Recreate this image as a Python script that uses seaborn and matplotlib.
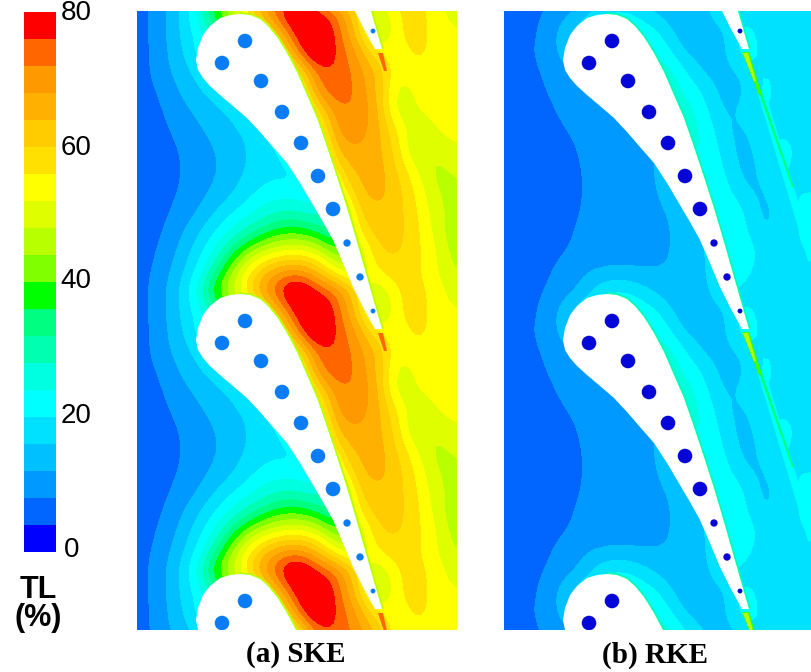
import numpy as np
import matplotlib
matplotlib.use("Agg")
import matplotlib.pyplot as plt
from matplotlib.colors import ListedColormap, BoundaryNorm
import seaborn as sns

# TL (%): one blade pitch, 14 rows by 17 columns
SKE_TL = [
    [6, 9.5, 15, 24, 42, 50, 66, 76, 86, 76, 72, 60, 46, 56, 58, 54, 49],
    [6, 9.4, 15, 21, 30, 40, 50, 64, 80, 86, 74, 62, 42, 56, 58, 54, 52],
    [6, 9, 14.5, 20, 30, 40, 48, 52, 72, 86, 75, 68, 55, 53, 58, 54, 54],
    [6, 9, 13.3, 17, 24, 30, 40, 46, 56, 74, 76, 70, 64, 52, 55, 54, 54],
    [6, 7.8, 11.5, 15, 18, 24, 30, 36, 46, 70, 76, 71, 64, 49, 53, 54, 54],
    [5, 7, 10, 12.7, 15, 17, 22, 30, 40, 58, 71, 72, 66, 48, 52, 54, 54],
    [5, 6.5, 8.6, 11, 13.5, 15.9, 17, 25, 35, 48, 70, 70, 66, 56, 47, 52, 54],
    [5, 6, 7.7, 9.8, 12, 15, 17, 18, 30, 40, 65, 68, 66, 58, 46, 49, 51],
    [5, 6, 7.5, 9.5, 11.7, 14.8, 17.5, 19, 18, 35, 58, 65, 67, 60, 52, 46, 49],
    [5, 6, 7.8, 10, 13, 16, 20, 22, 21, 19, 50, 63, 66, 62, 55, 47, 47],
    [5, 6.5, 8.6, 11.7, 16, 20, 24, 27, 28, 24, 34, 60, 64, 62, 56, 49, 46],
    [5, 7, 10.2, 15, 20, 26, 31, 37, 38, 34, 28, 56, 62, 62, 57, 50, 44],
    [6, 7.7, 12, 17.5, 25, 36, 46, 51, 53, 50, 38, 46, 60, 61, 57, 52, 45],
    [6, 8.6, 13.5, 20, 32, 48, 60, 68, 70, 64, 52, 46, 56, 59, 57, 52, 47],
]
RKE_TL = [
    [6, 6.5, 7.9, 10, 13, 20, 21, 17, 14, 13, 14, 20, 19, 18, 18, 18, 18],
    [6, 6.5, 8.5, 14, 20, 22, 24, 23, 18, 13, 14, 15, 22, 18, 18, 18, 18],
    [6, 7, 9, 14, 16, 18, 20, 28, 22, 15, 14, 14, 24, 18, 18, 18, 18],
    [6, 6.5, 8.2, 11, 13, 15, 17, 20, 28, 20, 15, 14, 17, 21, 18, 18, 18],
    [6, 6, 7.7, 9.5, 12, 12, 16, 20, 28, 24, 19, 14, 15, 22, 18, 18, 18],
    [6, 6, 6.8, 8.8, 10, 10.5, 11, 14, 18, 28, 21, 15, 17, 21, 18, 18, 18],
    [5, 5, 6, 7.8, 9, 10, 10, 12, 14, 26, 24, 16, 15, 19, 20, 18, 18],
    [5, 5, 5.5, 6.8, 8.6, 10, 10, 10.5, 13, 24, 25, 18, 14, 18, 22, 18, 19],
    [5, 5, 5.3, 6.3, 8.2, 10, 10, 11, 13, 14, 25, 20, 14, 17, 21, 18, 19],
    [5, 5, 5.3, 6.2, 8.1, 10, 10, 10.5, 13, 14, 26, 22, 16, 15, 20, 20, 20],
    [5, 5, 5.3, 6.5, 8.3, 10, 10, 10, 12, 13, 14, 25, 20, 14, 18, 21, 21],
    [5, 5, 5.5, 7, 9, 10, 10, 10, 11.5, 13, 14, 25, 21, 15, 18, 21, 21],
    [5.5, 6, 6, 7.8, 9.2, 10.5, 10.5, 10.5, 11.5, 13, 14, 26, 23, 18, 18, 20, 22],
    [6, 6, 7, 9.5, 11.5, 12, 12, 12, 12, 13, 14, 24, 21, 18, 18, 18, 20],
]
LEVELS = list(range(0, 84, 4))
BAND_COLORS = ["#0000ff", "#0066ff", "#0099ff", "#00c0ff", "#00e0ff", "#00ffff",
               "#00ffe0", "#00ffb0", "#00ff80", "#00ff00", "#80ff00", "#b8ff00",
               "#dfff00", "#ffff00", "#ffe000", "#ffcc00", "#ffb000", "#ff9900",
               "#ff6600", "#ff0000"]
CBAR_TICKS = [80, 60, 40, 20, 0]
CELL = 20
PITCH = 280
# Blade outline and cooling holes, one pitch
BLADE_X = [103, 113, 123, 131, 140, 150, 160, 170, 180, 190, 200, 210, 220, 230, 238, 245,
           238, 226, 216, 206, 196, 186, 176, 163, 150, 136, 123, 110, 96, 83, 73, 66, 61, 59, 61, 66, 73, 83, 93]
BLADE_Y = [3, 4, 8, 15, 26, 42, 61, 84, 107, 136, 166, 197, 231, 266, 294, 318,
           318, 296, 276, 252, 229, 211, 194, 172, 152, 136, 121, 107, 95, 84, 75, 67, 59, 49, 37, 24, 15, 7, 4]
SUCTION_POINTS = 16
HOLE_X = [108, 85, 124, 145, 164, 181, 196, 210, 223, 236]
HOLE_Y = [30, 52, 70, 101, 132, 165, 198, 232, 266, 300]
HOLE_S = [110, 110, 110, 110, 110, 110, 110, 28, 28, 12]
WAKE_A_X = [241, 246, 250, 247]
WAKE_A_Y = [42, 42, 60, 60]
WAKE_B_X = [[238, 245, 258, 255], [239, 244, 252, 250]]
WAKE_B_Y = [[41, 41, 84, 84], [42, 42, 70, 70]]
WAKE_B_C = ["#40ff00", "#b8ff00"]
STREAK_X = [253, 261, 312, 304]
STREAK_Y = [80, 80, 250, 250]
GLOW_X = [255, 258, 290, 288]
GLOW_Y = [82, 82, 176, 176]
CAPTIONS = ["(a) SKE", "(b) RKE"]

sns.set_theme(style="white")
plt.rcParams["font.family"] = ["Liberation Sans", "DejaVu Sans"]
W, H = 811, 672
fig = plt.figure(figsize=(W / 100, H / 100), dpi=100)
def axes_px(x0, y0, x1, y1):
    return fig.add_axes([x0 / W, 1 - y1 / H, (x1 - x0) / W, (y1 - y0) / H])

cmap = ListedColormap(BAND_COLORS)
norm = BoundaryNorm(LEVELS, cmap.N)

# colour bar
cax = axes_px(24, 12, 56, 552)
mids = [[(LEVELS[i] + LEVELS[i + 1]) / 2] for i in range(len(BAND_COLORS))][::-1]
sns.heatmap(mids, ax=cax, cmap=cmap, norm=norm, cbar=False, xticklabels=False, yticklabels=False)
for v, yp in zip(CBAR_TICKS, [13, 148, 281, 416, 550]):
    fig.text((76 if v else 72) / W, 1 - yp / H, str(v), fontsize=20, ha="center", va="center", color="black")
fig.text(38 / W, 1 - 590 / H, "TL", fontsize=22, fontweight="bold", ha="center", va="center", color="black")
fig.text(38 / W, 1 - 618 / H, "(%)", fontsize=22, fontweight="bold", ha="center", va="center", color="black")


def smooth_field(table, up=5):
    """Render the read table through a periodic cubic-spline-like filter."""
    z = np.array(table, dtype=float)
    nr, nc = z.shape
    pad = 3
    zp = np.vstack([z[-pad:], z, z, z, z[:pad]])
    y0 = np.arange(zp.shape[0]) * CELL - pad * CELL
    x0 = np.arange(nc) * CELL
    y1 = np.arange(y0[0], y0[-1] + 1e-6, CELL / up)
    x1 = np.arange(x0[0], x0[-1] + 1e-6, CELL / up)
    a = np.array([np.interp(y1, y0, zp[:, j]) for j in range(nc)]).T
    a = np.array([np.interp(x1, x0, row) for row in a])
    box = np.ones(up) / up
    for _ in range(2):
        a = np.apply_along_axis(lambda v: np.convolve(np.pad(v, up, mode="edge"), box, mode="same")[up:-up], 0, a)
        a = np.apply_along_axis(lambda v: np.convolve(np.pad(v, up, mode="edge"), box, mode="same")[up:-up], 1, a)
    return x1, y1, a


def draw(ax, table, hole_color, width, wall_color):
    x1, y1, a = smooth_field(table)
    ax.contourf(x1, y1, np.clip(a, 0.1, 79.9), levels=LEVELS, cmap=cmap, norm=norm)
    for k in range(-1, 3):
        ax.plot(BLADE_X[:SUCTION_POINTS], np.array(BLADE_Y[:SUCTION_POINTS]) + k * PITCH,
                color=wall_color, lw=2.6, zorder=2.5, solid_capstyle="butt")
        ax.fill(BLADE_X, np.array(BLADE_Y) + k * PITCH, color="white", lw=0, zorder=3)
        ax.scatter(HOLE_X, np.array(HOLE_Y) + k * PITCH, s=HOLE_S, color=hole_color, lw=0, zorder=4)
    ax.set_xlim(0, width)
    ax.set_ylim(619, 0)
    ax.axis("off")


ax_a = axes_px(137, 11, 457, 630)
draw(ax_a, SKE_TL, "#0a7cf5", 320, "#b8ff00")
ax_b = axes_px(504, 11, 811, 630)
draw(ax_b, RKE_TL, "#0505d8", 307, "#00ffb0")
for k in range(-1, 3):
    ax_a.fill(WAKE_A_X, np.array(WAKE_A_Y) + k * PITCH, color="#ff6600", lw=0, zorder=2)
    ax_b.fill(STREAK_X, np.array(STREAK_Y) + k * PITCH, color="#00ffff", lw=0, zorder=2)
    ax_b.fill(GLOW_X, np.array(GLOW_Y) + k * PITCH, color="#00ff80", lw=0, zorder=2)
    for wx, wy, wc in zip(WAKE_B_X, WAKE_B_Y, WAKE_B_C):
        ax_b.fill(wx, np.array(wy) + k * PITCH, color=wc, lw=0, zorder=2)

for cap, xp in zip(CAPTIONS, [296, 655]):
    fig.text(xp / W, 1 - 655 / H, cap, fontsize=21, fontweight="bold", family="Liberation Serif",
             ha="center", va="center", color="black")
fig.savefig("out.png", dpi=100, facecolor="white")
